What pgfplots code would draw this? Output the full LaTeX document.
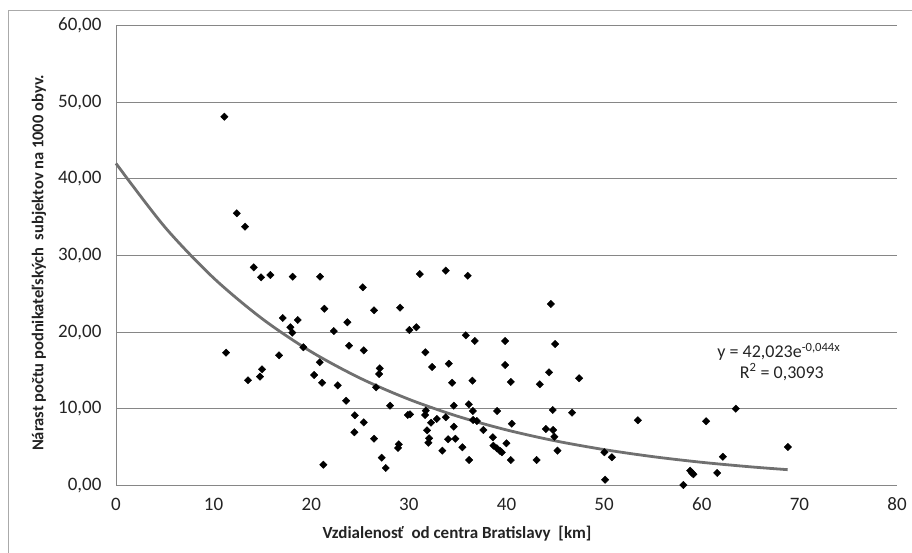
\documentclass[border=0pt]{standalone}
\usepackage{fontspec}
\setmainfont{Carlito}
\usepackage{pgfplots}
\pgfplotsset{compat=1.18}
\definecolor{gridc}{RGB}{134,134,134}
\definecolor{trendc}{RGB}{112,112,112}
\definecolor{txt}{RGB}{35,35,35}

\pgfplotstableread{
x y
11.10 48.12
12.37 35.51
13.22 33.76
14.11 28.46
14.86 27.15
15.81 27.45
18.10 27.23
20.90 27.23
21.34 23.05
17.08 21.84
18.62 21.58
17.86 20.63
18.06 19.92
22.31 20.14
23.70 21.28
11.27 17.31
19.19 18.02
16.70 16.97
14.96 15.14
14.75 14.18
13.52 13.71
20.87 16.06
23.87 18.22
20.29 14.40
21.11 13.39
22.71 13.05
23.57 11.04
21.24 2.69
25.28 25.85
26.43 22.85
29.10 23.19
31.12 27.58
33.78 28.02
36.03 27.36
30.05 20.27
30.77 20.63
25.38 17.62
35.83 19.58
36.75 18.84
31.69 17.36
32.38 15.44
34.09 15.87
27.02 15.27
26.95 14.53
34.43 13.39
36.51 13.66
26.64 12.79
28.07 10.39
34.60 10.39
36.14 10.57
36.55 9.70
39.04 9.70
24.46 9.14
25.38 8.22
29.89 9.18
30.12 9.27
31.66 9.18
32.27 8.17
32.86 8.66
33.78 8.88
34.60 7.65
36.58 8.52
36.96 8.39
37.63 7.22
24.42 6.92
26.43 6.08
31.86 7.18
32.07 6.14
32.00 5.56
34.02 6.01
34.76 6.08
28.97 5.35
28.89 4.87
35.48 4.96
33.43 4.52
38.60 6.27
38.66 5.17
39.01 4.83
39.34 4.48
39.52 4.31
27.22 3.60
27.63 2.26
36.17 3.30
44.54 23.67
39.86 18.84
44.98 18.45
39.86 15.71
44.36 14.75
47.44 13.97
40.44 13.49
43.41 13.19
44.74 9.83
46.72 9.48
40.54 8.04
44.03 7.35
44.77 7.22
44.91 6.34
39.99 5.48
45.22 4.52
40.44 3.30
43.08 3.30
53.45 8.49
50.03 4.31
50.79 3.66
50.10 0.73
60.45 8.36
63.49 10.00
68.82 5.00
62.16 3.73
61.58 1.61
58.81 1.91
58.98 1.64
59.15 1.44
58.12 0.04
31.73 9.74
}\scatterdata

\pgfplotstableread{
x y
0 42.02
5 33.72
10 27.06
15 21.72
20 17.43
25 13.99
30 11.23
35 9.01
40 7.23
45 5.80
50 4.66
55 3.74
60 3.00
65 2.41
68.8 2.04
}\trenddata

\begin{document}
\begin{tikzpicture}[x=1pt,y=1pt]
\useasboundingbox (0,0) rectangle (912,553);
\draw[gridc!70, line width=0.9pt] (8.3,-20) -- (8.3,542.3) -- (940,542.3);
\begin{axis}[
  at={(116pt,67.7pt)}, anchor=south west,
  scale only axis, width=781pt, height=459.6pt,
  xmin=0, xmax=80, ymin=0, ymax=60,
  xtick={0,10,...,80}, ytick={0,10,...,60},
  axis x line*=bottom, axis y line*=left,
  axis line style={gridc, line width=0.9pt, -},
  ymajorgrids, grid style={gridc, line width=0.9pt},
  major tick length=0pt,
  tick label style={font=\fontsize{19}{22}\selectfont, text=txt},
  xticklabel={\pgfmathprintnumber[fixed,precision=0,assume math mode=true]{\tick}},
  yticklabel={\pgfmathprintnumber[fixed,fixed zerofill,precision=2,use comma,assume math mode=true]{\tick}},
  xticklabel style={yshift=-9pt},
  yticklabel style={xshift=-11pt},
  clip=false,
]
\addplot[only marks, mark=square*, mark size=2.6pt, mark options={rotate=45, fill=black, draw=black}] table[x=x,y=y] {\scatterdata};
\addplot[trendc, line width=2.8pt, smooth, no marks] table[x=x,y=y] {\trenddata};
\node[font=\fontsize{18}{21}\selectfont, text=txt] at (axis cs:67.9,17.4) {y = 42,023e\textsuperscript{-0,044x}};
\node[font=\fontsize{18}{21}\selectfont, text=txt] at (axis cs:68.2,14.8) {R\textsuperscript{2} = 0,3093};
\end{axis}
\node[font=\bfseries\fontsize{17}{20}\selectfont, text=txt] at (457,19) {Vzdialenosť\ \ od centra Bratislavy\ \ [km]};
\node[rotate=90, font=\bfseries\fontsize{16.5}{19}\selectfont, text=txt] at (39,290) {Nárast počtu podnikateľských\ \ subjektov na 1000 obyv.};
\end{tikzpicture}
\end{document}
